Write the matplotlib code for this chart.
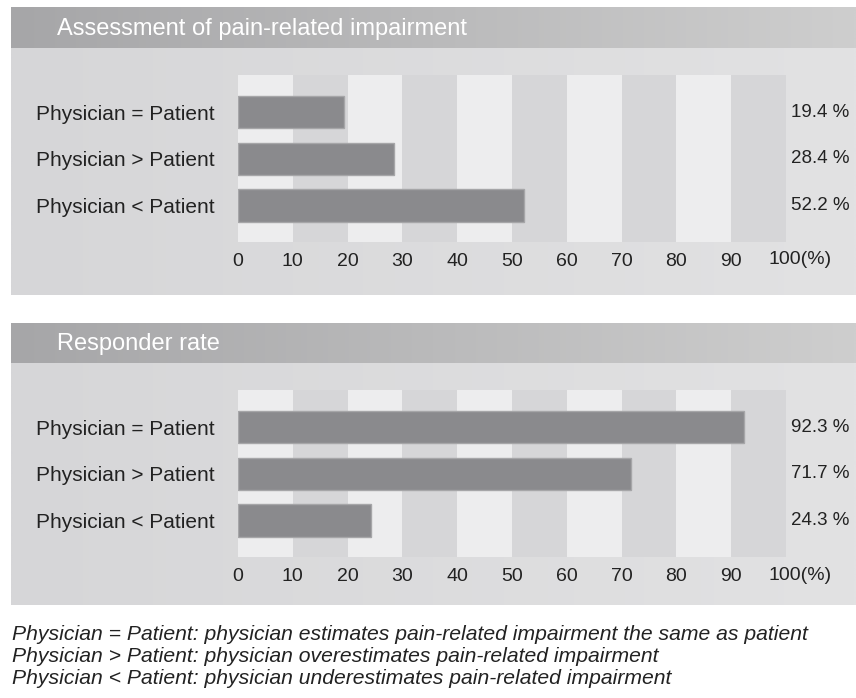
import numpy as np
import matplotlib
matplotlib.use('Agg')
import matplotlib.pyplot as plt
from matplotlib.colors import to_rgb

categories = ['Physician = Patient', 'Physician > Patient', 'Physician < Patient']
impairment_values = [19.4, 28.4, 52.2]
responder_values = [92.3, 71.7, 24.3]
tick_values = [0, 10, 20, 30, 40, 50, 60, 70, 80, 90, 100]
tick_labels = ['0', '10', '20', '30', '40', '50', '60', '70', '80', '90', '']
panel_titles = ['Assessment of pain-related impairment', 'Responder rate']
footnotes = [
    'Physician = Patient: physician estimates pain-related impairment the same as patient',
    'Physician > Patient: physician overestimates pain-related impairment',
    'Physician < Patient: physician underestimates pain-related impairment',
]

W, H = 856, 698
plt.rcParams['font.family'] = ['Liberation Sans', 'DejaVu Sans']
fig = plt.figure(figsize=(W / 100, H / 100), dpi=100)


def fig_box(x0, y0, x1, y1):
    # pixel box with top-left origin -> figure fraction rect
    return [x0 / W, 1 - y1 / H, (x1 - x0) / W, (y1 - y0) / H]


bg = fig.add_axes([0, 0, 1, 1])
bg.axis('off')


def gradient(x0, y0, x1, y1, c_left, c_right):
    ramp = np.linspace(0, 1, 256)
    cl = np.array(to_rgb(c_left))
    cr = np.array(to_rgb(c_right))
    img = cl[None, :] + (cr - cl)[None, :] * ramp[:, None]
    bg.imshow(img[None, :, :], extent=(x0, x1, y1, y0), aspect='auto',
              interpolation='bilinear')


def draw_panel(top, bottom, header_bottom, title, values):
    gradient(11, top, W, bottom, '#d6d6d8', '#e2e2e3')
    gradient(11, top, W, header_bottom, '#a6a6a8', '#cecece')
    bg.text(57, (top + header_bottom) / 2 + 1, title, color='white',
            fontsize=17, va='center', ha='left')

    band_top = header_bottom + 27
    ax = fig.add_axes(fig_box(238, band_top, 786, band_top + 167))
    ax.patch.set_visible(False)
    for i in range(10):
        shade = '#ededee' if i % 2 == 0 else '#d6d6d8'
        ax.axvspan(i * 10, i * 10 + 10, color=shade, lw=0, zorder=0)
    y = np.arange(len(categories))
    ax.barh(y, values, height=0.7, color='#8a8a8d', edgecolor='#a6a6a8',
            lw=1, zorder=2)
    for yi, v in zip(y, values):
        ax.text(101, yi, f'{v} %', va='center', ha='left', fontsize=13.5,
                color='#222222')
    ax.set_xlim(0, 100)
    ax.set_ylim(2.77, -0.79)
    ax.set_yticks(y, categories)
    ax.set_xticks(tick_values, tick_labels)
    ax.tick_params(axis='y', length=0, pad=17, labelsize=15, labelcolor='#222222')
    ax.tick_params(axis='x', length=0, pad=8, labelsize=14, labelcolor='#222222')
    ax.annotate('100(%)', xy=(100, 0), xycoords=('data', 'axes fraction'),
                xytext=(-18, -18), textcoords='offset pixels', ha='left',
                va='center', fontsize=14, color='#222222')
    for s in ax.spines.values():
        s.set_visible(False)


draw_panel(7, 295, 48, panel_titles[0], impairment_values)
draw_panel(323, 605, 363, panel_titles[1], responder_values)

bg.set_xlim(0, W)
bg.set_ylim(H, 0)

for i, line in enumerate(footnotes):
    fig.text(12 / W, 1 - (634 + 22 * i) / H, line, style='italic',
             fontsize=15.2, va='center', ha='left', color='#222222')

fig.savefig('out.png', dpi=100, facecolor='white')
